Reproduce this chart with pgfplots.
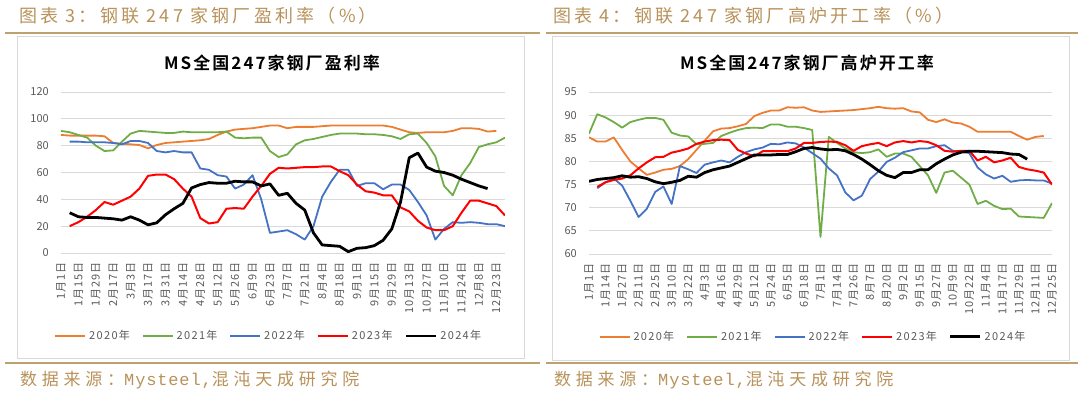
\documentclass[border=0pt]{standalone}
\usepackage{fontspec}
\usepackage{pgfplots}
\pgfplotsset{compat=1.18}
\setmainfont{Carlito}
\newfontfamily\cjk{Noto Sans CJK SC}
\newfontfamily\cjkls[LetterSpace=12]{Noto Sans CJK SC}
\newfontfamily\cjktick[LetterSpace=8]{Noto Sans CJK SC}
\newfontfamily\cjkhead[LetterSpace=18]{Noto Sans CJK SC}
\newfontfamily\cjkfoot[LetterSpace=28]{Noto Sans CJK SC}
\newfontfamily\monofoot[LetterSpace=5]{Liberation Mono}
\newfontfamily\cjkbold[LetterSpace=12]{Noto Sans CJK SC Bold}
\definecolor{gold}{HTML}{B8925A}
\definecolor{rulec}{HTML}{BFA070}
\definecolor{framec}{HTML}{D9D9D9}
\definecolor{gridc}{HTML}{D9D9D9}
\definecolor{tickc}{HTML}{595959}
\definecolor{c20}{HTML}{ED7D31}
\definecolor{c21}{HTML}{70AD47}
\definecolor{c22}{HTML}{4472C4}
\definecolor{c23}{HTML}{FF0000}
\definecolor{c24}{HTML}{000000}
\newcommand{\footer}{{\cjkfoot\fontsize{17}{17}\selectfont 数据来源：}{\monofoot\fontsize{17}{17}\selectfont Mysteel,}{\cjkfoot\fontsize{17}{17}\selectfont 混沌天成研究院}}
\pgfplotsset{
  mystyle/.style={
    scale only axis,
    axis line style={draw=none},
    major tick length=0pt,
    ymajorgrids,
    grid style={color=gridc, line width=0.8pt},
    /pgf/number format/assume math mode=true,
    yticklabel style={font=\cjk\fontsize{11}{11}\selectfont, text=tickc, inner sep=0pt},
    yticklabel shift=12pt,
    xticklabel style={font=\cjktick\fontsize{11}{11}\selectfont, text=tickc, rotate=90, anchor=east, inner sep=0pt},
    xticklabel shift=9pt,
    legend style={draw=none, fill=none, legend columns=5, anchor=center,
      font=\cjkls\fontsize{11}{11}\selectfont, text=tickc,
      /tikz/every even column/.append style={column sep=10pt},
      /tikz/every odd column/.append style={column sep=1pt}},
    legend image code/.code={\draw[#1] (0pt,0pt) -- (30pt,0pt);},
    every axis plot/.append style={mark=none, line join=round},
  }
}
\begin{document}
\begin{tikzpicture}[x=1pt,y=1pt]
\useasboundingbox (0,0) rectangle (1080,397);
% headers
\node[anchor=west, inner sep=0pt, text=gold, font=\cjkhead\fontsize{18}{18}\selectfont] at (19,381) {图表 3：钢联 247 家钢厂盈利率（\%）};
\node[anchor=west, inner sep=0pt, text=gold, font=\cjkhead\fontsize{18}{18}\selectfont] at (553,381) {图表 4：钢联 247 家钢厂高炉开工率（\%）};
\draw[rulec, line width=1.5pt] (5,364) -- (540,364);
\draw[rulec, line width=1.5pt] (546,364) -- (1078,364);
\draw[rulec, line width=1.5pt] (5,34) -- (540,34);
\draw[rulec, line width=1.5pt] (546,34) -- (1078,34);
\node[anchor=west, inner sep=0pt, text=gold] at (20,17) {\footer};
\node[anchor=west, inner sep=0pt, text=gold] at (554,17) {\footer};
% frames
\draw[framec, line width=0.8pt] (17,39) rectangle (524,361);
\draw[framec, line width=0.8pt] (552,37) rectangle (1069,361);
% titles
\node[inner sep=0pt, font=\cjkbold\fontsize{17}{17}\selectfont] at (272,334) {MS全国247家钢厂盈利率};
\node[inner sep=0pt, font=\cjkbold\fontsize{17}{17}\selectfont] at (807,334) {MS全国247家钢厂高炉开工率};

\begin{axis}[mystyle, at={(61pt,144pt)}, anchor=south west, width=444pt, height=161pt,
  xmin=0, xmax=51, ymin=0, ymax=120, ytick={0,20,...,120},
  xtick={0,2,...,50},
  xticklabels={1月1日,1月15日,1月29日,2月17日,3月3日,3月17日,3月31日,4月14日,4月28日,5月12日,5月26日,6月9日,6月23日,7月7日,7月21日,8月4日,8月18日,9月1日,9月15日,9月29日,10月13日,10月27日,11月10日,11月24日,12月8日,12月23日},
  legend style={at={(0.468,-0.516)}}]
\addplot[c20, line width=1.8pt] coordinates {(0,88)(1,87.5)(2,87.5)(3,87.5)(4,87.5)(5,87)(6,82)(7,81.5)(8,81)(9,80.5)(10,78)(11,80.5)(12,82)(13,82.5)(14,83)(15,83.5)(16,84)(17,85)(18,88)(19,90.5)(20,92)(21,92.5)(22,93)(23,94)(24,95)(25,95)(26,93)(27,94)(28,94)(29,94)(30,94.5)(31,95)(32,95)(33,95)(34,95)(35,95)(36,95)(37,95)(38,94)(39,92)(40,90)(41,89.5)(42,90)(43,90)(44,90)(45,91)(46,93)(47,93)(48,92.5)(49,90.5)(50,91)};
\addlegendentry{2020年}
\addplot[c21, line width=1.8pt] coordinates {(0,91)(1,90)(2,88)(3,86)(4,80)(5,76)(6,76.5)(7,83)(8,89)(9,91)(10,90.5)(11,90)(12,89.5)(13,89.5)(14,90.5)(15,90)(16,90)(17,90)(18,90)(19,90.5)(20,86)(21,85.5)(22,86)(23,86)(24,76)(25,71.5)(26,73.5)(27,81)(28,84)(29,85)(30,86.5)(31,88)(32,89)(33,89)(34,89)(35,88.5)(36,88.5)(37,88)(38,87)(39,85)(40,88.5)(41,89)(42,82)(43,72)(44,50)(45,43)(46,58)(47,67)(48,79)(49,81)(50,82.5)(51,86)};
\addlegendentry{2021年}
\addplot[c22, line width=1.8pt] coordinates {(1,83)(2,83)(3,82.5)(4,82.5)(5,82.5)(6,82)(7,81)(8,83.5)(9,83.5)(10,82)(11,76)(12,75)(13,76)(14,75)(15,75)(16,63)(17,62)(18,58)(19,57)(20,48)(21,51)(22,58)(23,40)(24,15)(25,16)(26,17)(27,14)(28,10)(29,20)(30,42)(31,53)(32,62)(33,62)(34,50)(35,52)(36,52)(37,47.5)(38,51)(39,51)(40,47)(41,38)(42,28)(43,10)(44,18)(45,23)(46,22.5)(47,23)(48,22.5)(49,21.5)(50,21.5)(51,20)};
\addlegendentry{2022年}
\addplot[c23, line width=2pt] coordinates {(1,20)(2,23)(3,27)(4,32)(5,38)(6,36)(7,39)(8,42)(9,48)(10,57.5)(11,58.5)(12,58.5)(13,55)(14,48)(15,42)(16,26)(17,22)(18,23)(19,33)(20,33.5)(21,33)(22,42)(23,50)(24,59)(25,63.5)(26,63)(27,63.5)(28,64)(29,64)(30,64.5)(31,64.5)(32,61)(33,58)(34,51)(35,46)(36,45)(37,43)(38,43)(39,34)(40,31)(41,24)(42,19)(43,17)(44,17)(45,20)(46,30)(47,39)(48,39)(49,37)(50,35)(51,28)};
\addlegendentry{2023年}
\addplot[c24, line width=2.8pt] coordinates {(1,30)(2,27)(3,26.5)(4,26.5)(5,26)(6,25.5)(7,24.5)(8,27)(9,24.5)(10,21)(11,22.5)(12,28.5)(13,33)(14,37)(15,48.5)(16,51)(17,52.5)(18,52)(19,52)(20,53.5)(21,53)(22,53)(23,50)(24,51.5)(25,43)(26,44.5)(27,37)(28,32)(29,15)(30,6)(31,5.5)(32,5)(33,1)(34,3.5)(35,4)(36,5.5)(37,9.5)(38,18)(39,38)(40,71)(41,74.5)(42,64)(43,61)(44,60)(45,58)(46,55)(47,52.5)(48,50)(49,48)};
\addlegendentry{2024年}
\end{axis}

\begin{axis}[mystyle, at={(589pt,143pt)}, anchor=south west, width=463pt, height=162pt,
  xmin=0, xmax=56, ymin=60, ymax=95, ytick={60,65,...,95},
  xtick={0,2,...,56},
  xticklabels={1月1日,1月14日,1月27日,2月11日,2月25日,3月10日,3月22日,4月3日,4月16日,4月29日,5月12日,5月24日,6月5日,6月18日,7月1日,7月14日,7月26日,8月7日,8月20日,9月2日,9月15日,9月27日,10月9日,10月22日,11月4日,11月17日,11月29日,12月11日,12月25日},
  legend style={at={(0.484,-0.511)}}]
\addplot[c20, line width=1.8pt] coordinates {(0,85.2)(1,84.3)(2,84.3)(3,85.2)(4,82.5)(5,80)(6,78.5)(7,77.1)(8,77.6)(9,78.2)(10,78.4)(11,79)(12,80.5)(13,82.5)(14,84.5)(15,86.5)(16,87.1)(17,87.2)(18,87.6)(19,88.1)(20,89.8)(21,90.5)(22,91)(23,91)(24,91.7)(25,91.6)(26,91.7)(27,91)(28,90.7)(29,90.8)(30,90.9)(31,91)(32,91.1)(33,91.3)(34,91.5)(35,91.8)(36,91.5)(37,91.4)(38,91.5)(39,90.8)(40,90.6)(41,89)(42,88.5)(43,89.1)(44,88.4)(45,88.2)(46,87.5)(47,86.4)(48,86.4)(49,86.4)(50,86.4)(51,86.4)(52,85.5)(53,84.7)(54,85.3)(55,85.5)};
\addlegendentry{2020年}
\addplot[c21, line width=1.8pt] coordinates {(0,86)(1,90.2)(2,89.5)(3,88.5)(4,87.3)(5,88.5)(6,89)(7,89.4)(8,89.4)(9,89)(10,86.2)(11,85.6)(12,85.4)(13,83.7)(14,83.8)(15,84)(16,85.5)(17,86.2)(18,86.8)(19,87.2)(20,87.3)(21,87.2)(22,88)(23,88)(24,87.5)(25,87.5)(26,87.2)(27,86.8)(28,63.7)(29,85.3)(30,84)(31,82.8)(32,82)(33,81.8)(34,82)(35,82.6)(36,81)(37,81.7)(38,81.7)(39,81)(40,79)(41,77)(42,73.2)(43,77.6)(44,78)(45,76.5)(46,75)(47,70.8)(48,71.5)(49,70.4)(50,69.7)(51,69.8)(52,68.1)(53,68)(54,67.9)(55,67.8)(56,71)};
\addlegendentry{2021年}
\addplot[c22, line width=1.8pt] coordinates {(1,74.2)(2,75.5)(3,76.3)(4,74.8)(5,71.5)(6,68)(7,69.8)(8,73.4)(9,74.6)(10,70.8)(11,79)(12,78.3)(13,77.5)(14,79.3)(15,79.8)(16,80.2)(17,79.8)(18,81)(19,82)(20,82.6)(21,83)(22,83.8)(23,83.7)(24,84.1)(25,83.9)(26,83)(27,81.8)(28,80.6)(29,78.5)(30,77)(31,73.3)(32,71.6)(33,72.6)(34,76.2)(35,77.8)(36,79.9)(37,80.8)(38,82)(39,82.4)(40,82.8)(41,82.8)(42,83.3)(43,83.5)(44,82.3)(45,82.1)(46,81.8)(47,78.7)(48,77.2)(49,76.3)(50,76.9)(51,75.6)(52,75.9)(53,76)(54,75.9)(55,75.9)(56,75.2)};
\addlegendentry{2022年}
\addplot[c23, line width=2pt] coordinates {(1,74.5)(2,75.5)(3,76)(4,76.3)(5,77)(6,78.5)(7,79.8)(8,80.9)(9,81)(10,81.9)(11,82.3)(12,82.8)(13,83.8)(14,84.3)(15,84.6)(16,84.7)(17,84.6)(18,82.5)(19,81.7)(20,81.1)(21,82.2)(22,82.2)(23,82.2)(24,82.2)(25,82.8)(26,84)(27,84)(28,84.2)(29,84.3)(30,84.2)(31,83.5)(32,82.3)(33,83.3)(34,83.7)(35,84)(36,83.3)(37,84.1)(38,84.4)(39,84.1)(40,84.4)(41,84.2)(42,83.5)(43,82.3)(44,82.1)(45,82.3)(46,82.3)(47,80.2)(48,81)(49,79.8)(50,80.2)(51,80.8)(52,78.8)(53,78.3)(54,78)(55,77.6)(56,75)};
\addlegendentry{2023年}
\addplot[c24, line width=2.8pt] coordinates {(0,75.7)(1,76.1)(2,76.3)(3,76.5)(4,76.9)(5,76.6)(6,76.7)(7,76.3)(8,75.6)(9,75.2)(10,75.5)(11,75.9)(12,76.8)(13,76.6)(14,77.6)(15,78.2)(16,78.6)(17,79)(18,79.8)(19,80.6)(20,81.4)(21,81.4)(22,81.4)(23,81.5)(24,81.5)(25,82.1)(26,82.8)(27,83)(28,82.7)(29,82.5)(30,82.6)(31,82.3)(32,81.5)(33,80.5)(34,79.3)(35,78)(36,77)(37,76.5)(38,77.6)(39,77.6)(40,78.2)(41,78.2)(42,79.5)(43,80.5)(44,81.4)(45,82)(46,82.2)(47,82.2)(48,82.1)(49,82)(50,81.9)(51,81.6)(52,81.5)(53,80.5)};
\addlegendentry{2024年}
\end{axis}
\end{tikzpicture}
\end{document}
